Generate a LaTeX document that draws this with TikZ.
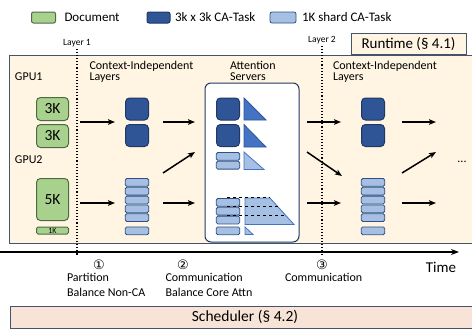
\documentclass[tikz,border=0pt]{standalone}
\usepackage{fontspec}
\setmainfont{Carlito}
\newfontfamily\circfont{DejaVu Sans}
\usepackage{tikz}
\usetikzlibrary{positioning, arrows.meta, calc}
\usepackage{xcolor}

\definecolor{docgreen}{HTML}{A9D18E}
\definecolor{docedge}{HTML}{4E6A45}
\definecolor{darkblue}{HTML}{2F5597}
\definecolor{darkedge}{HTML}{1F3864}
\definecolor{lightblue}{HTML}{A6C0E4}
\definecolor{lightedge}{HTML}{2F4F85}
\definecolor{midblue}{HTML}{4472C4}
\definecolor{framefill}{HTML}{FFF5E2}
\definecolor{frameedge}{HTML}{44546A}
\definecolor{schedfill}{HTML}{F8E4D6}

\begin{document}
\begin{tikzpicture}[
    x=1pt, y=-1pt,
    every node/.style={inner sep=0pt, outer sep=0pt},
    doc/.style={draw=docedge, fill=docgreen, rounded corners=4pt, line width=1pt,
        minimum width=32pt, font=\fontsize{15.5}{16}\selectfont},
    bigtask/.style={draw=darkedge, fill=darkblue, rounded corners=4pt, line width=1pt,
        minimum width=23pt, minimum height=22pt},
    shard/.style={draw=lightedge, fill=lightblue, rounded corners=1.5pt, line width=0.8pt,
        minimum width=23.5pt, minimum height=7.8pt},
    flow/.style={-{Stealth[length=7pt, width=5.5pt, inset=1.5pt]}, line width=1.5pt},
    colhead/.style={font=\fontsize{12}{11}\selectfont, align=left, anchor=north west},
    steptext/.style={font=\fontsize{12}{15}\selectfont, align=left, anchor=north west},
    legend/.style={font=\fontsize{13}{13}\selectfont, anchor=west},
    layerline/.style={dotted, line width=1.1pt},
    fullbox/.style={draw=frameedge, line width=1pt}
]
    \clip (0,0) rectangle (472,332);

    % legend
    \node[draw=docedge, fill=docgreen, rounded corners=2pt, line width=1pt,
        minimum width=24pt, minimum height=11pt] (keydoc) at (43.5,17.5) {};
    \node[legend, right=9pt of keydoc] {Document};
    \node[bigtask, minimum width=23pt, minimum height=11pt, rounded corners=2pt] (keybig) at (158.5,17.5) {};
    \node[legend, right=5pt of keybig] {3k x 3k CA-Task};
    \node[shard, minimum width=26pt, minimum height=11pt, rounded corners=2pt] (keyshard) at (283,17.5) {};
    \node[legend, right=6pt of keyshard] {1K shard CA-Task};

    % runtime frame
    \draw[fullbox, fill=framefill] (9,55) rectangle (480,243);
    \node[fullbox, fill=framefill, minimum width=115pt, minimum height=21pt,
        font=\fontsize{15}{15}\selectfont] (runtime) at (408.5,44) {Runtime (§ 4.1)};

    % layer boundaries
    \node[font=\fontsize{9.5}{10}\selectfont] (layer1) at (77,43) {Layer 1};
    \node[font=\fontsize{9.5}{10}\selectfont] (layer2) at (322,40) {Layer 2};
    \coordinate (l1end) at (77,256);
    \coordinate (l2end) at (322,256);
    \draw[layerline] ([yshift=-2pt]layer1.south) -- (l1end);
    \draw[layerline] ([yshift=-2pt]layer2.south) -- (l2end);

    % GPUs and documents
    \node[font=\fontsize{12}{12}\selectfont, anchor=west] (gpu1) at (15,77) {GPU1};
    \node[font=\fontsize{12}{12}\selectfont, anchor=west] (gpu2) at (15,160) {GPU2};
    \node[doc, minimum height=23pt] (doca) at (52.5,109) {3K};
    \node[doc, minimum height=23pt] (docb) at (52.5,136) {3K};
    \node[doc, minimum height=42pt] (docc) at (52.5,199.5) {5K};
    \node[doc, minimum height=7pt, rounded corners=1.5pt, font=\fontsize{8}{8}\selectfont] (docd) at (52.5,230.5) {1K};

    % context-independent layers
    \node[colhead] (cil1) at (89.5,61) {Context-Independent\\Layers};
    \node[colhead] (cil2) at (333,61) {Context-Independent\\Layers};
    \foreach \x/\c in {137/a, 373/b} {
        \node[bigtask] (big\c1) at (\x,109) {};
        \node[bigtask] (big\c2) at (\x,135.5) {};
        \foreach \y [count=\i] in {182.4,191.2,200,208.8,217.6,230.8}
            \node[shard] (sh\c\i) at (\x,\y) {};
    }

    % attention servers
    \node[colhead] (attn) at (230,61) {Attention\\Servers};
    \node[draw=darkedge, fill=white, rounded corners=6pt, line width=1pt,
        minimum width=94pt, minimum height=159pt] (server) at (252,162.5) {};
    \node[bigtask] (srv1) at (228,109) {};
    \node[bigtask] (srv2) at (228,135.5) {};
    \draw[darkblue, fill=midblue, line width=0.8pt] (244,98) -- (244,120) -- (266,120) -- cycle;
    \draw[darkblue, fill=midblue, line width=0.8pt] (244,124.5) -- (244,147) -- (266,147) -- cycle;
    \foreach \y [count=\i] in {156.4,165.2}
        \node[shard] (srvs\i) at (228,\y) {};
    \draw[midblue, fill=lightblue, line width=0.8pt] (244,152) -- (244,169.5) -- (264,169.5) -- cycle;
    \foreach \y [count=\i] in {202.4,211.2,220,230.8}
        \node[shard] (srvl\i) at (228,\y) {};
    \draw[midblue, fill=lightblue, line width=0.8pt] (245,198) -- (270,198) -- (294,224.5) -- (245,224.5) -- cycle;
    \draw[midblue, fill=lightblue, line width=0.8pt] (245,227) -- (245,234.5) -- (253,234.5) -- cycle;
    \draw[dashed, line width=0.9pt] (227,197.5) -- (270,197.5);
    \draw[dashed, line width=0.9pt] (227,206.5) -- (278.2,206.5);
    \draw[dashed, line width=0.9pt] (227,215) -- (286,215);

    % data movement
    \foreach \c/\xa/\xb in {p/80/115, q/163/195, r/307/341, s/402/436} {
        \coordinate (top\c) at (\xa,122);  \coordinate (topend\c) at (\xb,122);
        \coordinate (low\c) at (\xa,203);  \coordinate (lowend\c) at (\xb,203);
    }
    \coordinate (midq) at (163,173);  \coordinate (midendq) at (195,152);
    \coordinate (midr) at (307,152);  \coordinate (midendr) at (342,176);
    \coordinate (mids) at (402,173);  \coordinate (midends) at (436,152);
    \path[flow]
        (topp) edge (topendp)
        (lowp) edge (lowendp)
        (topq) edge (topendq)
        (midq) edge (midendq)
        (lowq) edge (lowendq)
        (topr) edge (topendr)
        (midr) edge (midendr)
        (lowr) edge (lowendr)
        (tops) edge (topends)
        (mids) edge (midends)
        (lows) edge (lowends);
    \node[font=\fontsize{12}{12}\selectfont] (more) at (462,162) {...};

    % time axis
    \coordinate (t0) at (-5,252);
    \coordinate (t1) at (459,252);
    \draw[-{Stealth[length=8pt, width=6pt]}, line width=1.8pt] (t0) -- (t1);
    \node[font=\fontsize{15}{15}\selectfont] (time) at (441,267) {Time};

    \node[font=\circfont\fontsize{13}{13}\selectfont] (step1) at (99,265) {①};
    \node[font=\circfont\fontsize{13}{13}\selectfont] (step2) at (183,265) {②};
    \node[font=\circfont\fontsize{13}{13}\selectfont] (step3) at (322,265) {③};
    \node[steptext] (text1) at (67,273.5) {Partition\\Balance Non-CA};
    \node[steptext] (text2) at (165.5,273.5) {Communication\\Balance Core Attn};
    \node[steptext] (text3) at (285,273.5) {Communication};

    % scheduler
    \node[fullbox, fill=schedfill, minimum width=470pt, minimum height=22pt,
        font=\fontsize{15.5}{16}\selectfont] (sched) at (245,317) {Scheduler (§ 4.2)};
\end{tikzpicture}
\end{document}
